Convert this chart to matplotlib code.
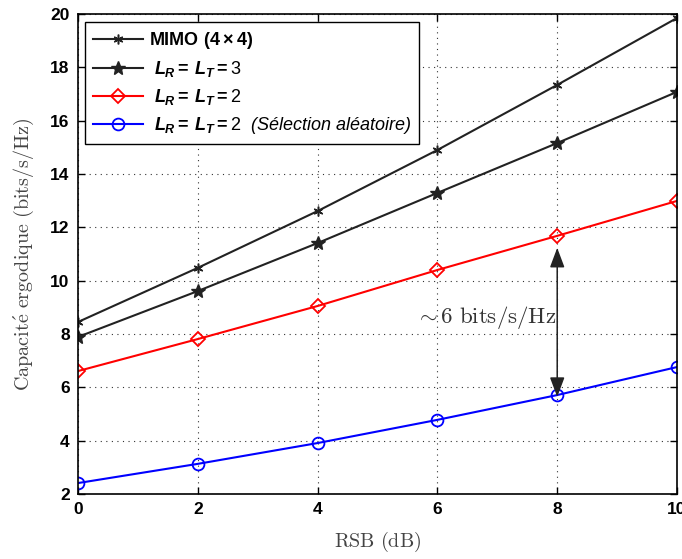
import matplotlib
matplotlib.use("Agg")
import matplotlib.pyplot as plt
from matplotlib.markers import MarkerStyle

plt.rcParams['mathtext.fontset'] = 'custom'
plt.rcParams['mathtext.rm'] = 'Liberation Sans'
plt.rcParams['mathtext.it'] = 'Liberation Sans:italic:bold'
plt.rcParams['mathtext.bf'] = 'Liberation Sans:bold'
plt.rcParams['mathtext.sf'] = 'Liberation Sans:italic'

rsb = [0, 2, 4, 6, 8, 10]
mimo = [8.45, 10.48, 12.61, 14.90, 17.34, 19.85]
l3 = [7.89, 9.61, 11.41, 13.29, 15.16, 17.08]
l2 = [6.61, 7.81, 9.05, 10.40, 11.68, 12.99]
l2_rand = [2.41, 3.13, 3.91, 4.78, 5.71, 6.76]

labels = [r'$\mathbf{MIMO\ (4\times 4)}$',
          r' $\mathit{L_R}\mathbf{=}\,\mathit{L_T}\mathbf{=}\mathrm{3}$',
          r' $\mathit{L_R}\mathbf{=}\,\mathit{L_T}\mathbf{=}\mathrm{2}$',
          r' $\mathit{L_R}\mathbf{=}\,\mathit{L_T}\mathbf{=}\mathrm{2}$  (Sélection aléatoire)']

fig = plt.figure(figsize=(6.82, 5.59), dpi=100)
ax = fig.add_axes([0.1144, 0.1163, 0.8783, 0.8587])

ast = MarkerStyle((6, 2, 0))
lw = 1.5
ax.plot(rsb, mimo, color='#222222', lw=lw, marker=ast, ms=7, mew=1.1, label=labels[0])
ax.plot(rsb, l3, color='#222222', lw=lw, marker='*', ms=10, mfc='#222222', mec='#222222', label=labels[1])
ax.plot(rsb, l2, color='red', lw=lw, marker='D', ms=7.5, mfc='none', mec='red', mew=1.3, label=labels[2])
ax.plot(rsb, l2_rand, color='blue', lw=lw, marker='o', ms=8.5, mfc='none', mec='blue', mew=1.3, label=labels[3])

ax.set_xlim(0, 10)
ax.set_ylim(2, 20)
ax.set_xticks(rsb)
ax.set_yticks(range(2, 21, 2))
ax.grid(True, linestyle=(0, (1, 4)), color='#333333', lw=0.8)
ax.tick_params(direction='in', length=5, width=1, top=True, right=True, pad=6)
for lab in ax.get_xticklabels() + ax.get_yticklabels():
    lab.set_fontfamily('Liberation Sans')
    lab.set_fontweight('bold')
    lab.set_fontsize(12.5)
for s in ax.spines.values():
    s.set_linewidth(1.2)

xl = ax.set_xlabel(r'$\mathrm{RSB\ (dB)}$', fontsize=14.5, color='#444444', labelpad=9)
xl.set_math_fontfamily('cm')
yl = ax.set_ylabel(r'$\mathrm{Capacit\acute{e}\ ergodique\ (bits/s/Hz)}$', fontsize=14.5, color='#444444', labelpad=10)
yl.set_math_fontfamily('cm')

ax.annotate('', xy=(8, 11.23), xytext=(8, 5.64),
            arrowprops=dict(arrowstyle='<|-|>,head_length=1.2,head_width=0.45', color='#222222', lw=1.1,
                            shrinkA=0, shrinkB=0))
t = ax.text(6.8, 8.6, r'$\sim 6\ \mathrm{bits/s/Hz}$', fontsize=16.5, color='#333333', ha='center', va='center')
t.set_math_fontfamily('cm')

leg = ax.legend(loc='upper left', bbox_to_anchor=(0.006, 0.99), frameon=True, fancybox=False,
                edgecolor='black', framealpha=1, handlelength=2.8, handletextpad=0.3,
                borderpad=0.42, labelspacing=0.45, borderaxespad=0.2,
                prop={'family': 'Liberation Sans', 'style': 'italic', 'size': 13.0})
leg.get_frame().set_linewidth(1.0)
for tx in leg.get_texts():
    tx.set_math_fontfamily('custom')

fig.savefig('out.png', dpi=100)
